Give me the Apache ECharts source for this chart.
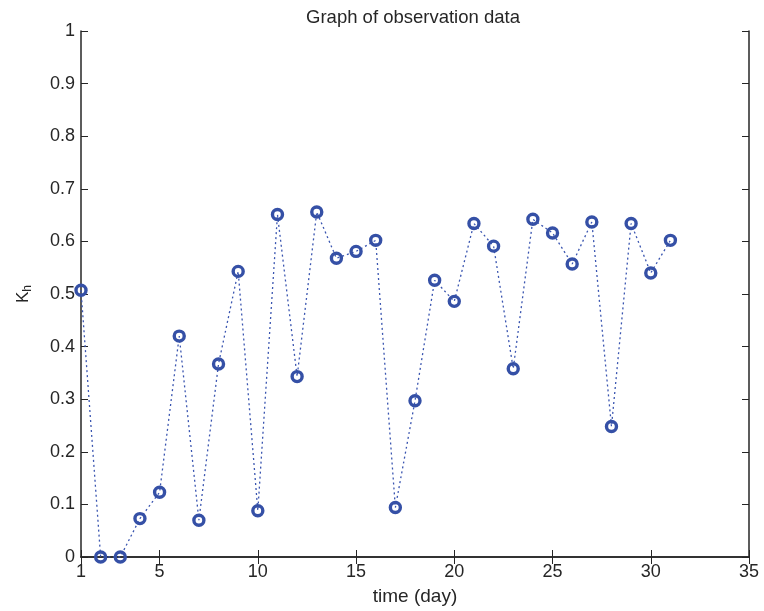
<!DOCTYPE html>
<html><head><meta charset="utf-8">
<script src="https://cdn.jsdelivr.net/npm/echarts@6/dist/echarts.min.js"></script>
<style>html,body{margin:0;padding:0;background:#fff}#c{width:764px;height:611px}</style>
</head><body><div id="c"></div>
<script>
var days = [1,2,3,4,5,6,7,8,9,10,11,12,13,14,15,16,17,18,19,20,21,22,23,24,25,26,27,28,29,30,31];
var kh = [0.507,0,0,0.073,0.123,0.42,0.070,0.367,0.543,0.088,0.651,0.343,0.656,0.568,0.581,0.602,0.094,0.297,0.526,0.486,0.634,0.591,0.358,0.642,0.616,0.557,0.637,0.248,0.634,0.540,0.602];
var xTicks = [1,5,10,15,20,25,30,35];
var yTicks = [0,0.1,0.2,0.3,0.4,0.5,0.6,0.7,0.8,0.9,1];
var titleText = 'Graph of observation data';
var xName = 'time (day)';

var chart = echarts.init(document.getElementById('c'));
var font = 'Liberation Sans, Arial, Helvetica, sans-serif';
var axisCol = '#262626';
var txtCol = '#262626';
var pts = days.map(function(d,i){return [d, kh[i]];});
function yLabel(v){ return (Math.round(v*10)/10).toString(); }
chart.setOption({
  animation:false,
  title:{text:titleText,left:408,textAlign:'center',top:3,textStyle:{fontFamily:font,fontSize:18.5,fontWeight:'normal',color:txtCol}},
  grid:{left:81,right:15,top:31,bottom:54},
  xAxis:[{
    type:'value',min:1,max:35,position:'bottom',
    name:xName,nameLocation:'middle',nameGap:30,
    nameTextStyle:{fontFamily:font,fontSize:19,color:txtCol},
    axisLine:{lineStyle:{color:axisCol,width:1.5}},
    axisTick:{show:true,inside:true,length:7,customValues:xTicks,lineStyle:{color:axisCol}},
    axisLabel:{customValues:xTicks,fontFamily:font,fontSize:18,color:txtCol,margin:6},
    splitLine:{show:false}
  },{
    type:'value',min:1,max:35,position:'top',
    axisLine:{show:true,lineStyle:{color:axisCol,width:1.5}},
    axisTick:{show:true,inside:true,length:7,customValues:xTicks,lineStyle:{color:axisCol}},
    axisLabel:{show:false},splitLine:{show:false}
  }],
  yAxis:[{
    type:'value',min:0,max:1,interval:0.1,position:'left',
    name:'K{s|h}',nameLocation:'middle',nameGap:47,nameRotate:90,
    nameTextStyle:{fontFamily:font,fontSize:17,color:txtCol,rich:{s:{fontFamily:font,fontSize:12,color:txtCol,verticalAlign:'bottom',padding:[9,0,0,0]}}},
    axisLine:{show:true,lineStyle:{color:axisCol,width:1.5}},
    axisTick:{show:true,inside:true,length:7,lineStyle:{color:axisCol}},
    axisLabel:{formatter:yLabel,fontFamily:font,fontSize:18,color:txtCol,margin:6},
    splitLine:{show:false}
  },{
    type:'value',min:0,max:1,interval:0.1,position:'right',
    axisLine:{show:true,lineStyle:{color:axisCol,width:1.5}},
    axisTick:{show:true,inside:true,length:7,lineStyle:{color:axisCol}},
    axisLabel:{show:false},splitLine:{show:false}
  }],
  series:[{
    type:'line',data:pts,xAxisIndex:0,yAxisIndex:0,
    symbol:'circle',symbolSize:10,showAllSymbol:true,
    lineStyle:{color:'#3a55b0',width:1.3,type:[2,3]},
    itemStyle:{color:'rgba(255,255,255,0)',borderColor:'#3550a6',borderWidth:3.4},
    z:3
  }]
});
</script></body></html>
